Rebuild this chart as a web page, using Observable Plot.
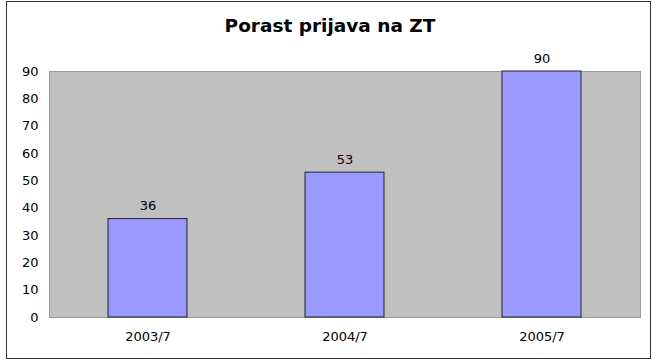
<!DOCTYPE html>
<html>
<head>
<meta charset="utf-8">
<script src="https://cdn.jsdelivr.net/npm/d3@7"></script>
<script src="https://cdn.jsdelivr.net/npm/@observablehq/plot@0.6"></script>
<style>
  body { margin: 0; background: #fff; }
  #wrap { position: relative; width: 660px; height: 362px; overflow: hidden; }
  #frame { position: absolute; left: 6px; top: 1px; width: 643px; height: 356px; border: 1px solid #333; }
  #title { position: absolute; left: 0; top: 15px; width: 660px; text-align: center; line-height: 1.164;
           font: bold 18.5px "DejaVu Sans", Verdana, sans-serif; color: #000; }
  #chart { position: absolute; left: 0; top: 0; }
</style>
</head>
<body>
<div id="wrap">
  <div id="frame"></div>
  <div id="chart"></div>
  <div id="title">Porast prijava na ZT</div>
</div>
<script>
const categories = ["2003/7", "2004/7", "2005/7"];
const values = [36, 53, 90];
const yTicks = [0, 10, 20, 30, 40, 50, 60, 70, 80, 90];

const data = categories.map((c, i) => ({category: c, value: values[i]}));

const chart = Plot.plot({
  width: 660,
  height: 362,
  marginLeft: 49,
  marginRight: 20,
  marginTop: 71,
  marginBottom: 45,
  style: {fontFamily: "'DejaVu Sans', Verdana, sans-serif", fontSize: "13px", color: "#000", background: "transparent"},
  x: {domain: categories, paddingInner: 0.6, paddingOuter: 0.3, label: null, tickSize: 0, tickPadding: 14},
  y: {domain: [0, 90], ticks: yTicks, label: null, tickSize: 0, tickPadding: 11},
  marks: [
    Plot.frame({fill: "#c0c0c0", stroke: "#999"}),
    Plot.barY(data, {x: "category", y: "value", fill: "#9999ff", stroke: "#222", strokeWidth: 1}),
    Plot.text(data, {x: "category", y: "value", text: d => String(d.value), dy: -13, fontSize: 13, fill: "#000"})
  ]
});
document.getElementById("chart").appendChild(chart);
</script>
</body>
</html>
